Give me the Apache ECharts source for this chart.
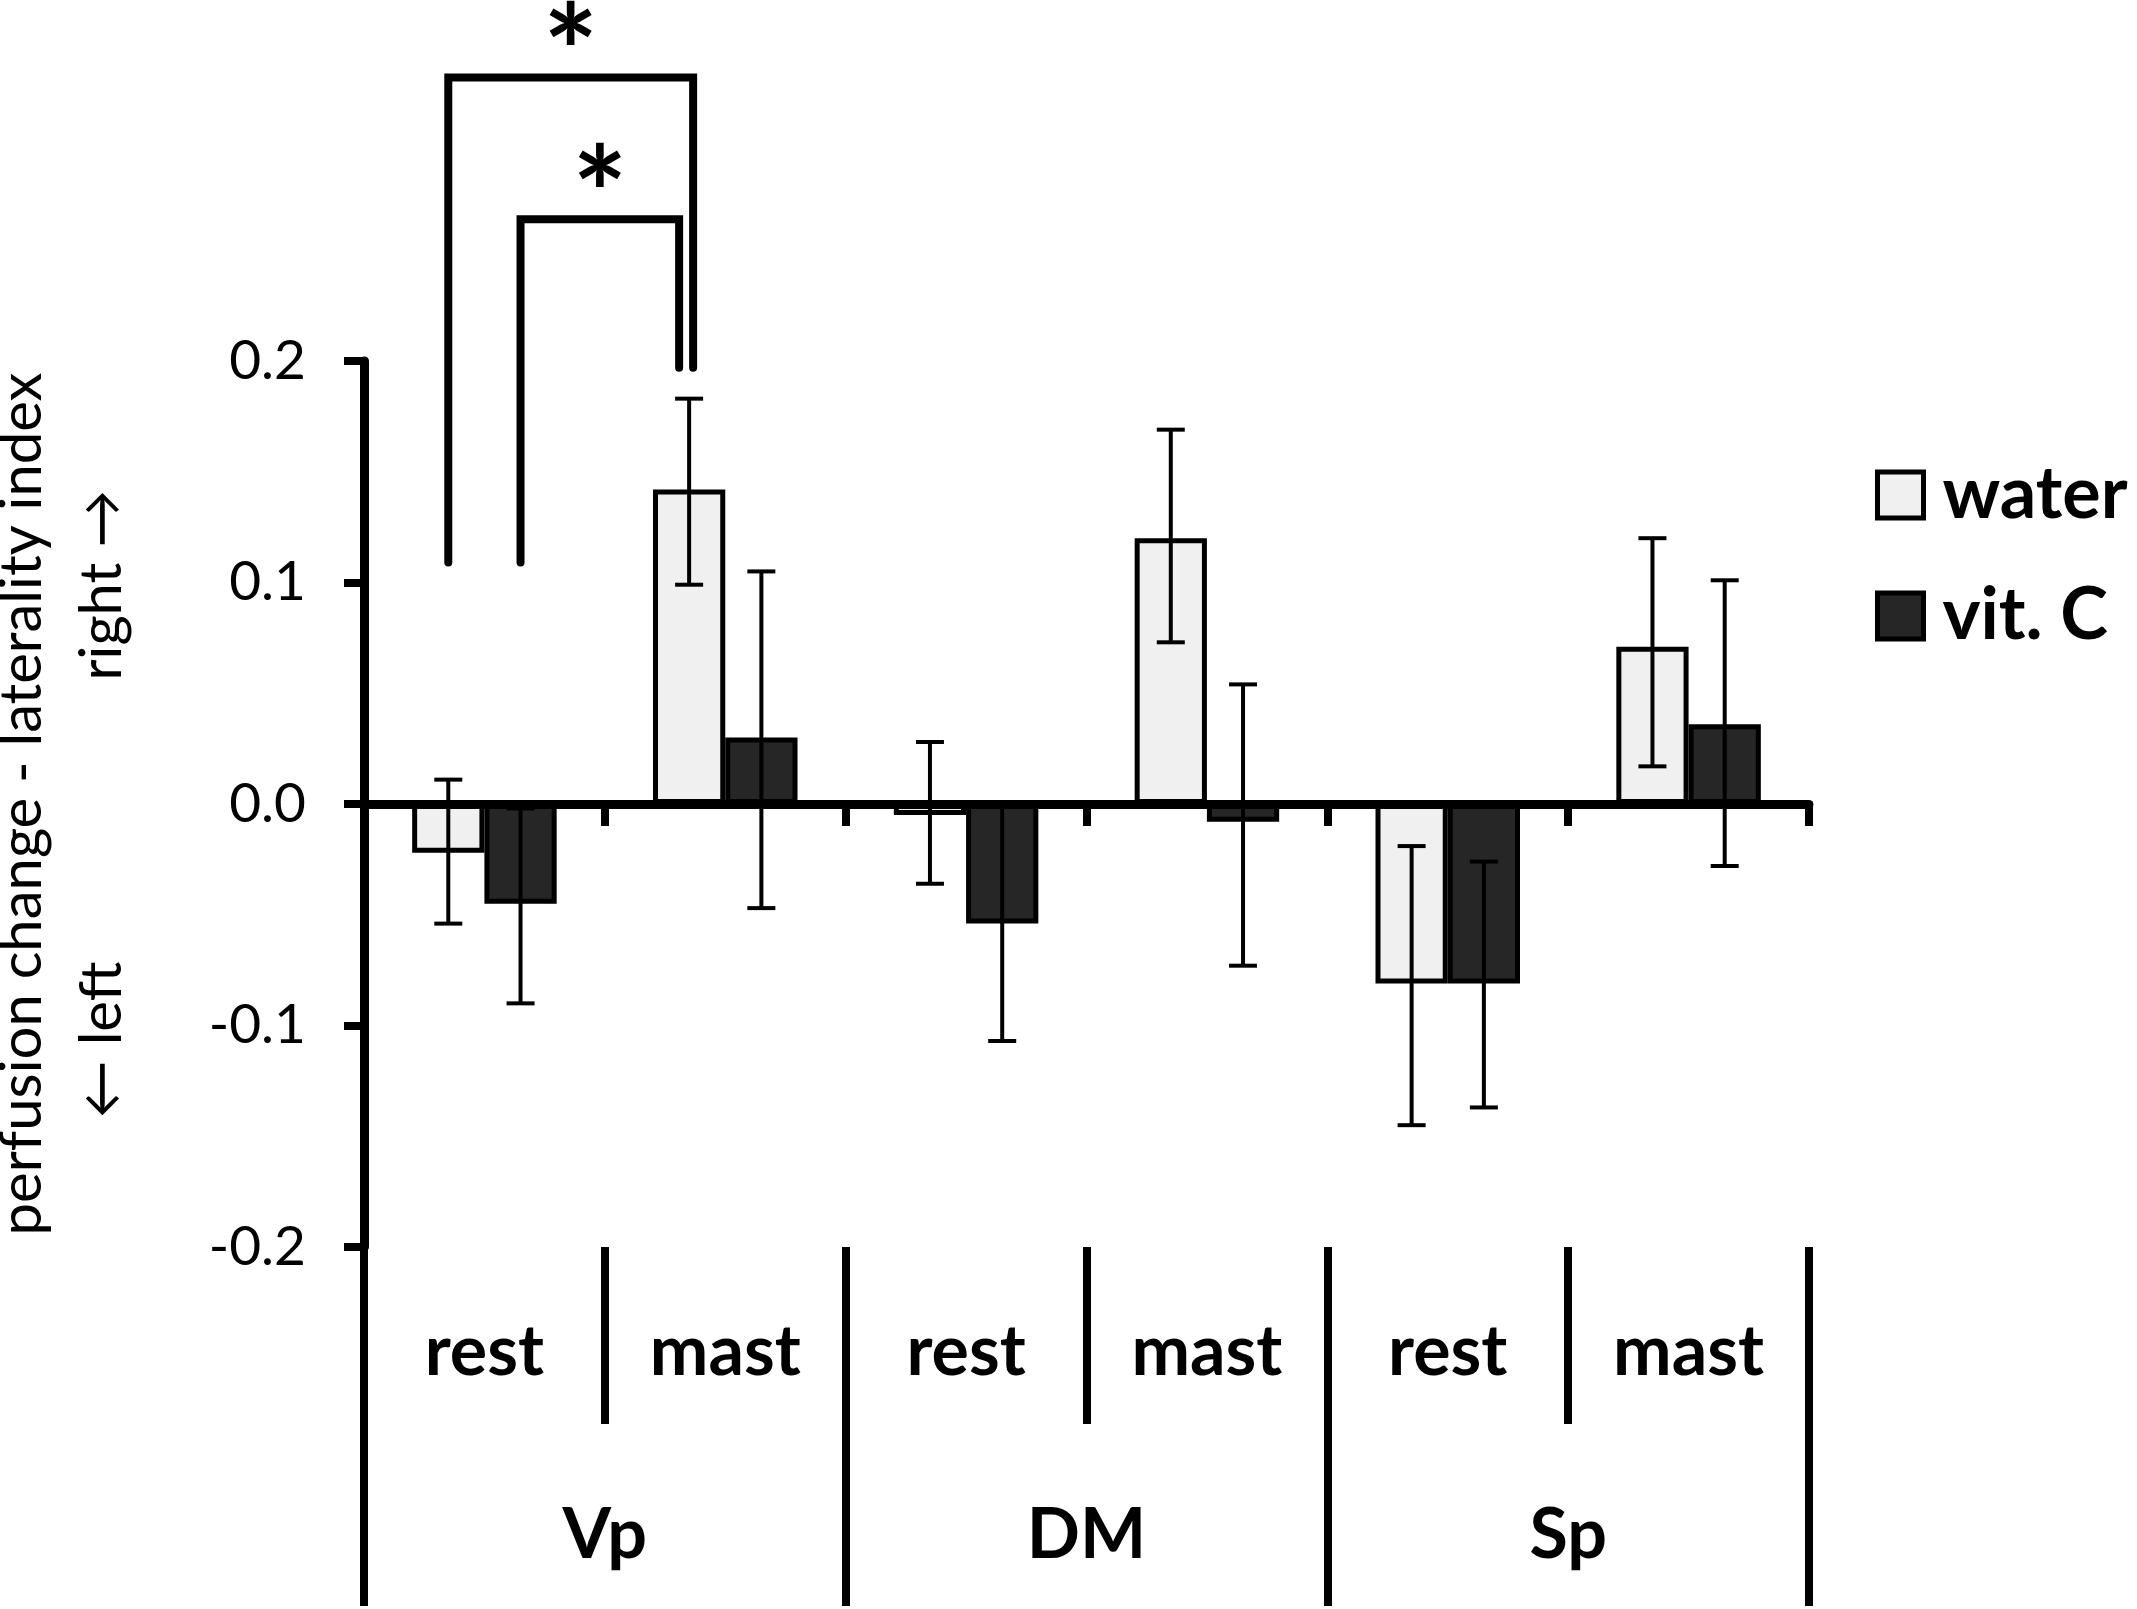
<!DOCTYPE html>
<html>

<head>
    <meta charset="utf-8">
    <title>perfusion change - laterality index</title>
    <script src="https://cdn.jsdelivr.net/npm/echarts@6/dist/echarts.min.js"></script>
    <style>
        html, body {
            margin: 0;
            padding: 0;
            background: #fff;
        }

        .chart {
            width: 2137px;
            height: 1609px;
        }
    </style>
</head>

<body>

    <div id="main" class="chart"></div>

    <script type="text/javascript">

        // sub conditions along the x axis, and the regions they belong to
        var categories = ['rest', 'mast', 'rest', 'mast', 'rest', 'mast'];
        var groups = ['Vp', 'DM', 'Sp'];

        // water
        var waterMean = [-0.022, 0.142, -0.005, 0.120, -0.081, 0.071];
        var waterLow = [-0.054, 0.099, -0.036, 0.073, -0.145, 0.017];
        var waterHigh = [0.011, 0.183, 0.028, 0.169, -0.019, 0.120];

        // vit. C
        var vitcMean = [-0.045, 0.030, -0.054, -0.008, -0.081, 0.036];
        var vitcLow = [-0.090, -0.047, -0.107, -0.073, -0.137, -0.028];
        var vitcHigh = [-0.002, 0.105, -0.001, 0.054, -0.026, 0.101];

        // significance brackets: from bar -> to bar, leg bottoms and top in data units
        var bracketFrom = [[0, 'water'], [0, 'vitc']];
        var bracketTo = [[1, 'water'], [1, 'water']];
        var bracketFromY = [0.109, 0.109];
        var bracketTopY = [0.328, 0.264];
        var bracketToY = [0.197, 0.197];
        var bracketLabel = ['*', '*'];

        var FONT = 'Lato';
        var barShift = { water: -0.15, vitc: 0.15 };

        function errorData(low, high) {
            var out = [];
            for (var i = 0; i < low.length; i++) {
                out.push([i, low[i], high[i]]);
            }
            return out;
        }

        function errorRender(side) {
            return function (params, api) {
                var band = api.size([1, 0])[0];
                var lo = api.coord([api.value(0), api.value(1)]);
                var hi = api.coord([api.value(0), api.value(2)]);
                var x = lo[0] + barShift[side] * band;
                var cap = 14;
                var style = { stroke: '#000', lineWidth: 4 };
                return {
                    type: 'group',
                    children: [
                        { type: 'line', shape: { x1: x, y1: lo[1], x2: x, y2: hi[1] }, style: style },
                        { type: 'line', shape: { x1: x - cap, y1: lo[1], x2: x + cap, y2: lo[1] }, style: style },
                        { type: 'line', shape: { x1: x - cap, y1: hi[1], x2: x + cap, y2: hi[1] }, style: style }
                    ]
                };
            };
        }

        var bracketData = [];
        for (var b = 0; b < bracketFrom.length; b++) {
            bracketData.push([bracketFrom[b][0], bracketFromY[b], bracketTopY[b], bracketTo[b][0], bracketToY[b], b]);
        }

        function bracketRender(params, api) {
            var k = api.value(5);
            var band = api.size([1, 0])[0];
            var nudge = k === 0 ? 4 : -10;
            var p0 = api.coord([api.value(0), api.value(1)]);
            var pTop = api.coord([api.value(0), api.value(2)]);
            var p1 = api.coord([api.value(3), api.value(4)]);
            var x0 = p0[0] + barShift[bracketFrom[k][1]] * band;
            var x1 = p1[0] + barShift[bracketTo[k][1]] * band + nudge;
            return {
                type: 'group',
                children: [
                    {
                        type: 'polyline',
                        shape: { points: [[x0, p0[1]], [x0, pTop[1]], [x1, pTop[1]], [x1, p1[1]]] },
                        style: { stroke: '#000', lineWidth: 8, fill: null, lineCap: 'round', lineJoin: 'miter' }
                    },
                    {
                        type: 'text',
                        style: {
                            text: bracketLabel[k],
                            x: (x0 + x1) / 2,
                            y: pTop[1] - 19,
                            align: 'center',
                            verticalAlign: 'middle',
                            fontSize: 130,
                            fontWeight: 'bold',
                            fontFamily: FONT,
                            fill: '#000'
                        }
                    }
                ]
            };
        }

        var myChart = echarts.init(document.getElementById('main'));

        var option = {
            backgroundColor: '#fff',
            animation: false,
            grid: {
                left: 364,
                right: 328,
                top: 361,
                bottom: 362,
                containLabel: false,
                outerBoundsMode: 'none'
            },
            legend: {
                data: ['water', 'vit. C'],
                orient: 'vertical',
                left: 1870,
                top: 454,
                icon: 'rect',
                itemWidth: 46,
                itemHeight: 46,
                itemGap: 49,
                itemStyle: { borderColor: '#000', borderWidth: 5 },
                textStyle: {
                    fontSize: 72,
                    fontWeight: 'bold',
                    fontFamily: FONT,
                    color: '#000',
                    lineHeight: 60,
                    padding: [0, 0, 0, 14]
                }
            },
            xAxis: [
                {
                    type: 'category',
                    data: categories,
                    position: 'bottom',
                    axisLine: { onZero: true, lineStyle: { color: '#000', width: 9 } },
                    axisTick: { show: true, interval: 0, length: 22, lineStyle: { color: '#000', width: 8 } },
                    axisLabel: { show: false },
                    splitLine: { show: false }
                },
                {
                    type: 'category',
                    data: categories,
                    position: 'bottom',
                    axisLine: { show: false, onZero: false },
                    axisTick: { show: true, interval: 0, length: 177, lineStyle: { color: '#000', width: 8 } },
                    axisLabel: {
                        interval: 0,
                        margin: 105,
                        verticalAlign: 'middle',
                        fontSize: 70,
                        fontWeight: 'bold',
                        fontFamily: FONT,
                        color: '#000'
                    },
                    splitLine: { show: false }
                },
                {
                    type: 'category',
                    data: groups,
                    position: 'bottom',
                    axisLine: { show: false, onZero: false },
                    axisTick: { show: true, interval: 0, length: 359, lineStyle: { color: '#000', width: 8 } },
                    axisLabel: {
                        interval: 0,
                        margin: 288,
                        verticalAlign: 'middle',
                        fontSize: 70,
                        fontWeight: 'bold',
                        fontFamily: FONT,
                        color: '#000'
                    },
                    splitLine: { show: false }
                }
            ],
            yAxis: {
                type: 'value',
                min: -0.2,
                max: 0.2,
                interval: 0.1,
                name: '{t|perfusion change - laterality index}\n{a|\u2190 left}{g| }{a|right \u2192}',
                nameLocation: 'middle',
                nameRotate: 90,
                nameGap: 222,
                nameTextStyle: {
                    fontFamily: FONT,
                    fontSize: 58,
                    color: '#000',
                    rich: {
                        t: { fontFamily: FONT, fontSize: 58, lineHeight: 80, color: '#000' },
                        a: { fontFamily: FONT, fontSize: 58, lineHeight: 80, color: '#000' },
                        g: { width: 281, lineHeight: 80 }
                    }
                },
                axisLine: { show: true, lineStyle: { color: '#000', width: 9 } },
                axisTick: { show: true, length: 20, lineStyle: { color: '#000', width: 8 } },
                axisLabel: {
                    margin: 58,
                    fontSize: 55,
                    fontFamily: FONT,
                    color: '#000',
                    formatter: function (v) { return v.toFixed(1); }
                },
                splitLine: { show: false }
            },
            series: [
                {
                    name: 'water',
                    type: 'bar',
                    data: waterMean,
                    barGap: '0%',
                    barCategoryGap: '40%',
                    itemStyle: { color: '#f0f0f0', borderColor: '#000', borderWidth: 5 }
                },
                {
                    name: 'vit. C',
                    type: 'bar',
                    data: vitcMean,
                    barGap: '0%',
                    barCategoryGap: '40%',
                    itemStyle: { color: '#262626', borderColor: '#000', borderWidth: 5 }
                },
                {
                    name: 'water err',
                    type: 'custom',
                    z: 3,
                    clip: false,
                    renderItem: errorRender('water'),
                    encode: { x: 0, y: [1, 2] },
                    data: errorData(waterLow, waterHigh)
                },
                {
                    name: 'vitc err',
                    type: 'custom',
                    z: 3,
                    clip: false,
                    renderItem: errorRender('vitc'),
                    encode: { x: 0, y: [1, 2] },
                    data: errorData(vitcLow, vitcHigh)
                },
                {
                    name: 'brackets',
                    type: 'custom',
                    z: 4,
                    clip: false,
                    renderItem: bracketRender,
                    encode: { x: 0, y: [1, 2, 4] },
                    data: bracketData
                }
            ]
        };

        myChart.setOption(option);

    </script>
</body>

</html>
